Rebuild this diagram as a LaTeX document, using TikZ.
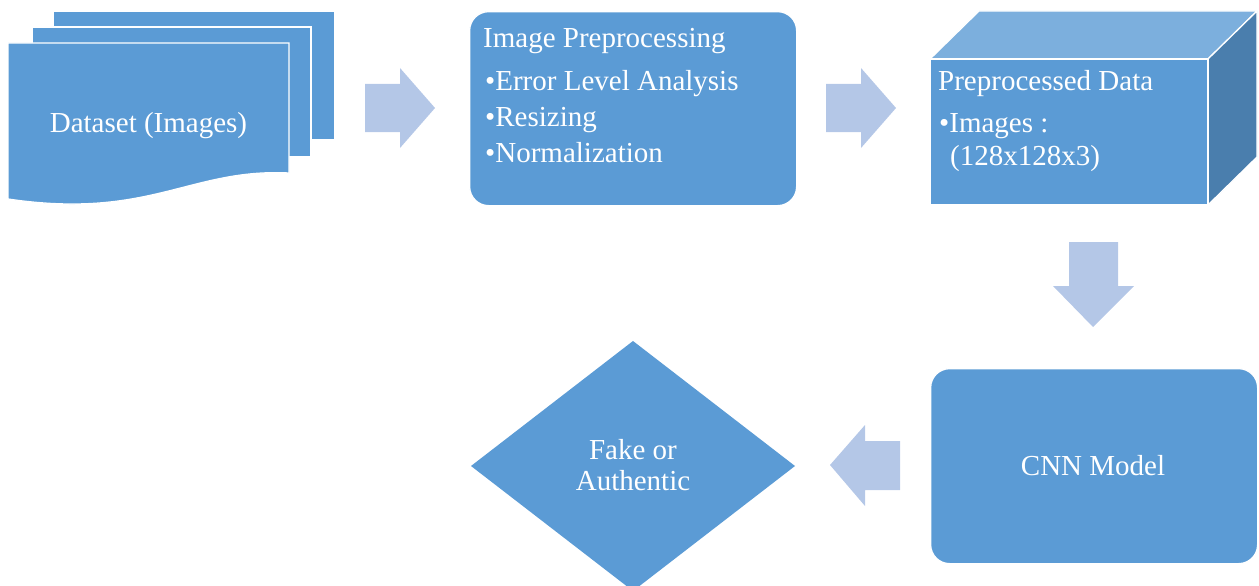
\documentclass[tikz,border=0pt]{standalone}
\usepackage{fontspec}
\setmainfont{Liberation Serif}
\definecolor{boxblue}{HTML}{5B9BD5}
\definecolor{arrowblue}{HTML}{B4C7E7}
\definecolor{toplight}{HTML}{7CAFDD}
\definecolor{sidedark}{HTML}{4A7EAD}
\begin{document}
\begin{tikzpicture}[x=1pt,y=-1pt,
  txt/.style={text=white, inner sep=0pt, font=\fontsize{29}{35}\selectfont},
  panel/.style={fill=boxblue, draw=white, line width=1.3pt},
  roundbox/.style={panel, rounded corners=19pt, inner sep=0pt, anchor=north west},
  blockarrow/.style={fill=arrowblue, draw=none}]
\useasboundingbox (0,0) rectangle (1259,586);

% stacked pages of the dataset
\draw[panel] (53,11) rectangle (335,140);
\draw[panel] (32,27) rectangle (311,157);
\draw[panel] (8,43) -- (289,43) -- (289,173)
  .. controls (190,168) and (150,220) .. (8,199) -- cycle;
\node[txt, anchor=base] (dataset) at (148.5,132) {Dataset (Images)};

% preprocessing step
\node[roundbox, minimum width=327pt, minimum height=194pt] (prep) at (469,11) {};
\node[txt, anchor=base west] (prepTitle) at (483,48) {Image Preprocessing};
\node[txt, anchor=base west] (prepA) at (485,91) {•Error Level Analysis};
\node[txt, anchor=base west] (prepB) at (485,126) {•Resizing};
\node[txt, anchor=base west] (prepC) at (485,162) {•Normalization};

% preprocessed data block (box in perspective)
\draw[panel, fill=toplight] (930,59) -- (979,11) -- (1257,11) -- (1208,59) -- cycle;
\draw[panel, fill=sidedark] (1208,59) -- (1257,11) -- (1257,157) -- (1208,205) -- cycle;
\draw[panel] (930,59) rectangle (1208,205);
\node[txt, anchor=base west] (dataTitle) at (938,91) {Preprocessed Data};
\node[txt, anchor=base west] (dataA) at (939,132) {•Images :};
\node[txt, anchor=base west] (dataB) at (950,165) {(128x128x3)};

% model
\node[roundbox, minimum width=327pt, minimum height=195pt] (cnn) at (930,368) {};
\node[txt, anchor=base] (cnnText) at (1093,475) {CNN Model};

% decision
\draw[panel, draw=none] (633,341) -- (795,466) -- (633,591) -- (471,466) -- cycle;
\node[txt, anchor=base] (decA) at (633,459) {Fake or};
\node[txt, anchor=base] (decB) at (633,490) {Authentic};

% block arrows between the steps
\fill[blockarrow] (365,84) -- (400,84) -- (400,68) -- (435,108) -- (400,148) -- (400,132) -- (365,132) -- cycle;
\fill[blockarrow] (826,84) -- (861,84) -- (861,68) -- (896,108) -- (861,148) -- (861,132) -- (826,132) -- cycle;
\fill[blockarrow] (1069,242) -- (1118,242) -- (1118,286) -- (1134,286) -- (1093,327) -- (1053,286) -- (1069,286) -- cycle;
\fill[blockarrow] (900,441) -- (865,441) -- (865,425) -- (830,465) -- (865,506) -- (865,490) -- (900,490) -- cycle;
\end{tikzpicture}
\end{document}
